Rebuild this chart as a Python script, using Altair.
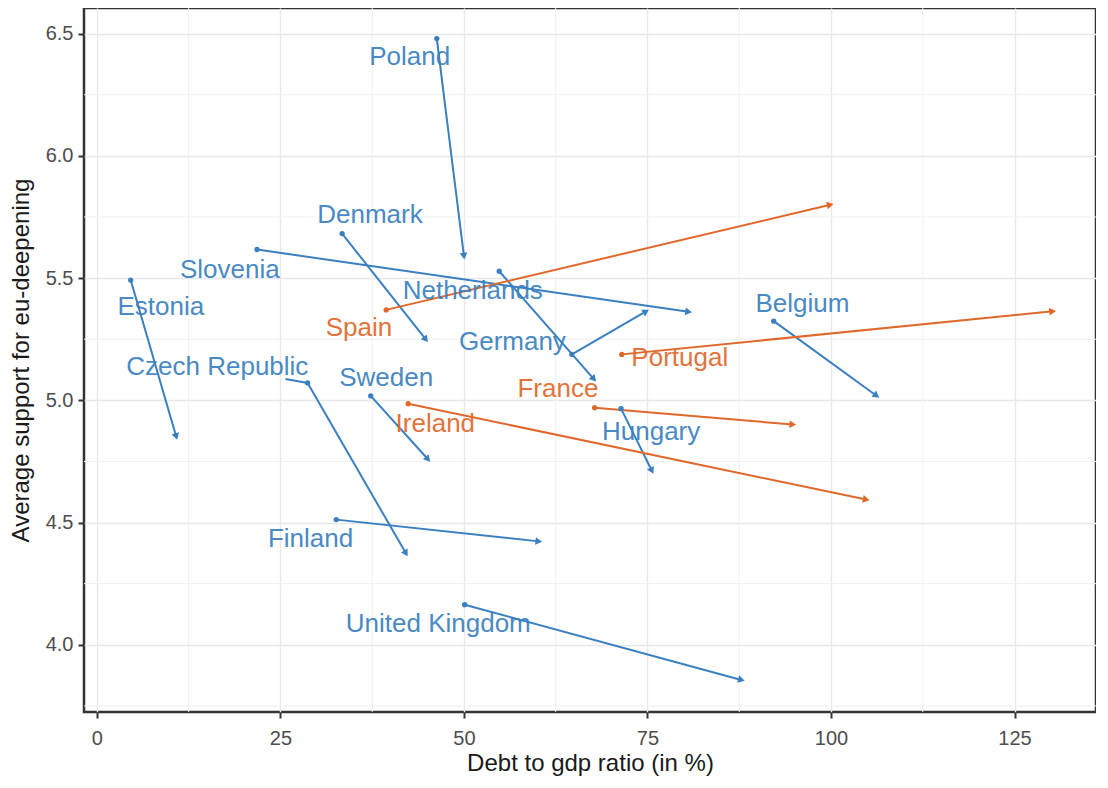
import math
import altair as alt
import pandas as pd

# ---- data ----
countries = ["Poland", "Denmark", "Slovenia", "Estonia", "Czech Republic", "Sweden",
             "Finland", "United Kingdom", "Netherlands", "Germany", "Belgium", "Hungary",
             "Spain", "Portugal", "France", "Ireland"]
group = ["other"] * 12 + ["crisis"] * 4
debt_start = [46.3, 33.4, 21.8, 4.6, 28.7, 37.3, 32.6, 50.1, 54.8, 64.7, 92.2, 71.4,
              39.4, 71.5, 67.8, 42.4]
debt_end = [50.0, 44.8, 80.6, 10.8, 42.1, 45.1, 60.2, 87.8, 67.7, 74.8, 106.2, 75.6,
            99.9, 130.2, 94.8, 104.8]
support_start = [6.48, 5.682, 5.617, 5.492, 5.071, 5.018, 4.512, 4.164, 5.528, 5.188,
                 5.324, 4.966, 5.370, 5.188, 4.970, 4.986]
support_end = [5.59, 5.249, 5.362, 4.852, 4.374, 4.759, 4.423, 3.856, 5.087, 5.364,
               5.019, 4.712, 5.800, 5.364, 4.901, 4.594]
label_debt = [42.6, 37.2, 18.1, 8.7, 16.4, 39.4, 29.1, 46.5, 51.2, 56.6, 96.1, 75.5,
              35.7, 79.4, 62.8, 46.1]
label_support = [6.403, 5.759, 5.532, 5.383, 5.136, 5.091, 4.431, 4.083, 5.447, 5.237,
                 5.395, 4.872, 5.294, 5.172, 5.047, 4.905]

# label connector (repelled label far from its point)
connector_country = ["Czech Republic"]
connector_debt = [25.7]
connector_support = [5.087]

x_ticks = [0, 25, 50, 75, 100, 125]
y_ticks = [4.0, 4.5, 5.0, 5.5, 6.0, 6.5]
minor_x = [12.5, 37.5, 62.5, 87.5, 112.5]
minor_y = [3.75, 4.25, 4.75, 5.25, 5.75, 6.25]

# ---- layout / style ----
X_DOMAIN = [-1.76, 136.1]
Y_DOMAIN = [3.725, 6.605]
W, H = 1012, 704
BLUE = "#3a7fc0"
ORANGE = "#e0682b"
FONT = "Liberation Sans"

df = pd.DataFrame({
    "country": countries,
    "group": group,
    "debt_start": debt_start,
    "debt_end": debt_end,
    "support_start": support_start,
    "support_end": support_end,
    "label_debt": label_debt,
    "label_support": label_support,
})

# arrowhead orientation in screen space
px_x = W / (X_DOMAIN[1] - X_DOMAIN[0])
px_y = H / (Y_DOMAIN[1] - Y_DOMAIN[0])
angles = []
for xs, xe, ys, ye in zip(debt_start, debt_end, support_start, support_end):
    dxs = (xe - xs) * px_x
    dys = -(ye - ys) * px_y
    angles.append(math.degrees(math.atan2(dxs, -dys)) % 360)
df["angle"] = angles

conn = pd.DataFrame({"country": connector_country, "cx": connector_debt, "cy": connector_support})
conn = conn.merge(df[["country", "group", "debt_start", "support_start"]], on="country")

x_scale = alt.Scale(domain=X_DOMAIN, nice=False, zero=False)
y_scale = alt.Scale(domain=Y_DOMAIN, nice=False, zero=False)
color = alt.Color("group:N", scale=alt.Scale(domain=["other", "crisis"], range=[BLUE, ORANGE]),
                  legend=None)

X_TITLE = "Debt to gdp ratio (in %)"
Y_TITLE = "Average support for eu-deepening"
x_axis = alt.Axis(values=x_ticks, title=X_TITLE, labelPadding=10, titlePadding=3)
y_axis = alt.Axis(values=y_ticks, format=".1f", title=Y_TITLE, labelPadding=5, titlePadding=12)


def X(field):
    return alt.X(field, scale=x_scale, axis=x_axis, title=X_TITLE)


def Y(field):
    return alt.Y(field, scale=y_scale, axis=y_axis, title=Y_TITLE)


minor_v = alt.Chart(pd.DataFrame({"x": minor_x})).mark_rule(
    color="#f0f0f0", strokeWidth=1
).encode(x=X("x:Q"))

minor_h = alt.Chart(pd.DataFrame({"y": minor_y})).mark_rule(
    color="#f0f0f0", strokeWidth=1
).encode(y=Y("y:Q"))

segments = alt.Chart(df).mark_rule(strokeWidth=2).encode(
    x=X("debt_start:Q"),
    y=Y("support_start:Q"),
    x2="debt_end:Q",
    y2="support_end:Q",
    color=color,
)

connectors = alt.Chart(conn).mark_rule(strokeWidth=2).encode(
    x=X("cx:Q"),
    y=Y("cy:Q"),
    x2="debt_start:Q",
    y2="support_start:Q",
    color=color,
)

starts = alt.Chart(df).mark_circle(size=28, opacity=1).encode(
    x=X("debt_start:Q"),
    y=Y("support_start:Q"),
    color=color,
)

heads = alt.Chart(df).mark_point(shape="triangle-up", filled=True, size=60, opacity=1).encode(
    x=X("debt_end:Q"),
    y=Y("support_end:Q"),
    angle=alt.Angle("angle:Q", scale=None),
    color=color,
)

labels = alt.Chart(df).mark_text(font=FONT, fontSize=26, align="center", baseline="middle",
                                 opacity=0.92).encode(
    x=X("label_debt:Q"),
    y=Y("label_support:Q"),
    text="country:N",
    color=color,
)

chart = alt.layer(minor_v, minor_h, segments, connectors, starts, heads, labels).properties(
    width=W,
    height=H,
    autosize=alt.AutoSizeParams(type="none"),
    padding={"left": 76, "top": 0, "right": 0, "bottom": 64},
).configure_view(
    stroke="#333333", strokeWidth=2.5
).configure_axis(
    domain=False,
    grid=True,
    gridColor="#e8e8e8",
    gridWidth=1.4,
    tickColor="#333333",
    tickWidth=2,
    tickSize=6,
    labelFont=FONT,
    labelFontSize=20,
    labelColor="#4d4d4d",
    titleFont=FONT,
    titleFontSize=24,
    titleFontWeight="normal",
    titleColor="#1a1a1a",
)

chart.save("out.html", embed_options={"renderer": "svg", "actions": False})
